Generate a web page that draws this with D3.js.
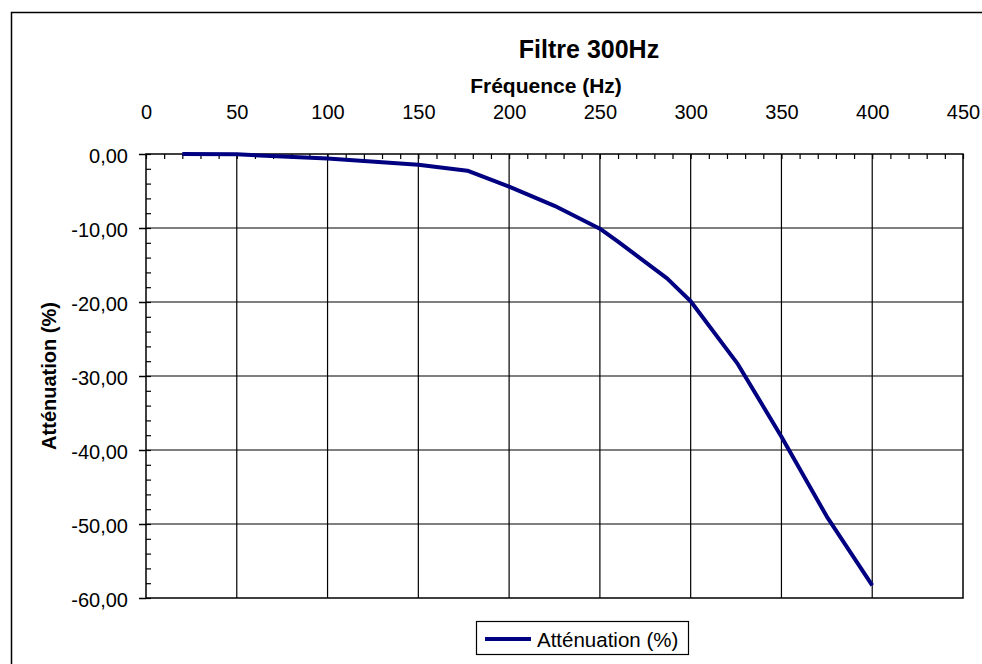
<!DOCTYPE html>
<html>
<head>
<meta charset="utf-8">
<script src="https://cdn.jsdelivr.net/npm/d3@7"></script>
<style>
  html, body { margin: 0; padding: 0; background: #fff; }
  svg { display: block; font-family: "Liberation Sans", Arial, sans-serif; }
</style>
</head>
<body>
<svg id="chart" width="982" height="664"></svg>
<script>
// ---- Data ----
const frequencies = [20, 50, 100, 150, 177, 200, 225, 250, 260, 287, 300, 326, 350, 375, 400];
const attenuation = [0, -0.05, -0.6, -1.45, -2.25, -4.4, -7.0, -10.1, -11.85, -16.8, -19.9, -28.4, -38.2, -49.0, -58.3];
const xTickValues = [0, 50, 100, 150, 200, 250, 300, 350, 400, 450];
const yTickValues = [0, -10, -20, -30, -40, -50, -60];
const chartTitle = "Filtre 300Hz";
const xTitle = "Fréquence (Hz)";
const yTitle = "Atténuation (%)";
const seriesName = "Atténuation (%)";

// ---- Layout ----
const svg = d3.select("#chart");
const plot = { left: 146, right: 963, top: 154, bottom: 598 };
const x = d3.scaleLinear().domain([0, 450]).range([plot.left, plot.right]);
const y = d3.scaleLinear().domain([-60, 0]).range([plot.bottom, plot.top]);

const locale = d3.formatLocale({ decimal: ",", thousands: " ", grouping: [3], currency: ["", "€"], minus: "-" });
const fmtY = locale.format(".2f");

// outer frame
svg.append("rect")
  .attr("x", 11.5).attr("y", 12.5)
  .attr("width", 1000).attr("height", 700)
  .attr("fill", "#fff").attr("stroke", "#000").attr("stroke-width", 1.5);

// gridlines
const grid = svg.append("g").attr("stroke", "#000").attr("stroke-width", 1.2);
grid.selectAll("line.v").data(xTickValues.filter(v => v > 0 && v < 450)).join("line")
  .attr("x1", d => x(d)).attr("x2", d => x(d))
  .attr("y1", plot.top).attr("y2", plot.bottom);
grid.selectAll("line.h").data(yTickValues.filter(v => v < 0 && v > -60)).join("line")
  .attr("y1", d => y(d)).attr("y2", d => y(d))
  .attr("x1", plot.left).attr("x2", plot.right);

// plot border
svg.append("rect")
  .attr("x", plot.left).attr("y", plot.top)
  .attr("width", plot.right - plot.left).attr("height", plot.bottom - plot.top)
  .attr("fill", "none").attr("stroke", "#000").attr("stroke-width", 1.5);

// minor ticks x (inside, pointing down)
const xMinor = d3.range(0, 451, 10);
svg.append("g")
  .attr("transform", `translate(0,${plot.top})`)
  .call(d3.axisBottom(x).tickValues(xMinor).tickSize(5).tickFormat(""))
  .call(g => g.select(".domain").remove())
  .call(g => g.selectAll("line").attr("stroke", "#000").attr("stroke-width", 1.2));

// minor ticks y (inside, pointing right)
const yMinor = d3.range(-60, 0.1, 2);
svg.append("g")
  .attr("transform", `translate(${plot.left},0)`)
  .call(d3.axisRight(y).tickValues(yMinor).tickSize(5).tickFormat(""))
  .call(g => g.select(".domain").remove())
  .call(g => g.selectAll("line").attr("stroke", "#000").attr("stroke-width", 1.2));

// x axis labels (top)
svg.append("g")
  .attr("transform", `translate(0,${plot.top})`)
  .call(d3.axisTop(x).tickValues(xTickValues).tickSize(0).tickPadding(35).tickFormat(d3.format("d")))
  .call(g => g.select(".domain").remove())
  .call(g => g.selectAll("text").attr("font-size", 20).attr("fill", "#000")
    .attr("font-family", "'Liberation Sans', Arial, sans-serif"));

// y axis (major ticks outward + labels)
svg.append("g")
  .attr("transform", `translate(${plot.left},0)`)
  .call(d3.axisLeft(y).tickValues(yTickValues).tickSize(7).tickPadding(11).tickFormat(fmtY))
  .call(g => g.select(".domain").remove())
  .call(g => g.selectAll("line").attr("stroke", "#000").attr("stroke-width", 1.5))
  .call(g => g.selectAll("text").attr("font-size", 20).attr("fill", "#000").attr("dy", "0.42em")
    .attr("font-family", "'Liberation Sans', Arial, sans-serif"));

// series line
const line = d3.line().x((d, i) => x(frequencies[i])).y(d => y(d));
svg.append("path")
  .datum(attenuation)
  .attr("d", line)
  .attr("fill", "none")
  .attr("stroke", "#000080")
  .attr("stroke-width", 4)
  .attr("stroke-linejoin", "round");

// titles
svg.append("text")
  .attr("x", 589).attr("y", 58)
  .attr("text-anchor", "middle")
  .attr("font-size", 25).attr("font-weight", "bold")
  .text(chartTitle);

svg.append("text")
  .attr("x", 546).attr("y", 93)
  .attr("text-anchor", "middle")
  .attr("font-size", 21).attr("font-weight", "bold")
  .text(xTitle);

svg.append("text")
  .attr("transform", `translate(56,${(plot.top + plot.bottom) / 2}) rotate(-90)`)
  .attr("text-anchor", "middle")
  .attr("font-size", 20).attr("font-weight", "bold")
  .text(yTitle);

// legend
const legend = svg.append("g");
legend.append("rect")
  .attr("x", 476.5).attr("y", 621.5).attr("width", 212).attr("height", 33)
  .attr("fill", "#fff").attr("stroke", "#000").attr("stroke-width", 1.2);
legend.append("line")
  .attr("x1", 485).attr("x2", 531).attr("y1", 639).attr("y2", 639)
  .attr("stroke", "#000080").attr("stroke-width", 4);
legend.append("text")
  .attr("x", 537).attr("y", 647)
  .attr("font-size", 20.5)
  .text(seriesName);
</script>
</body>
</html>
